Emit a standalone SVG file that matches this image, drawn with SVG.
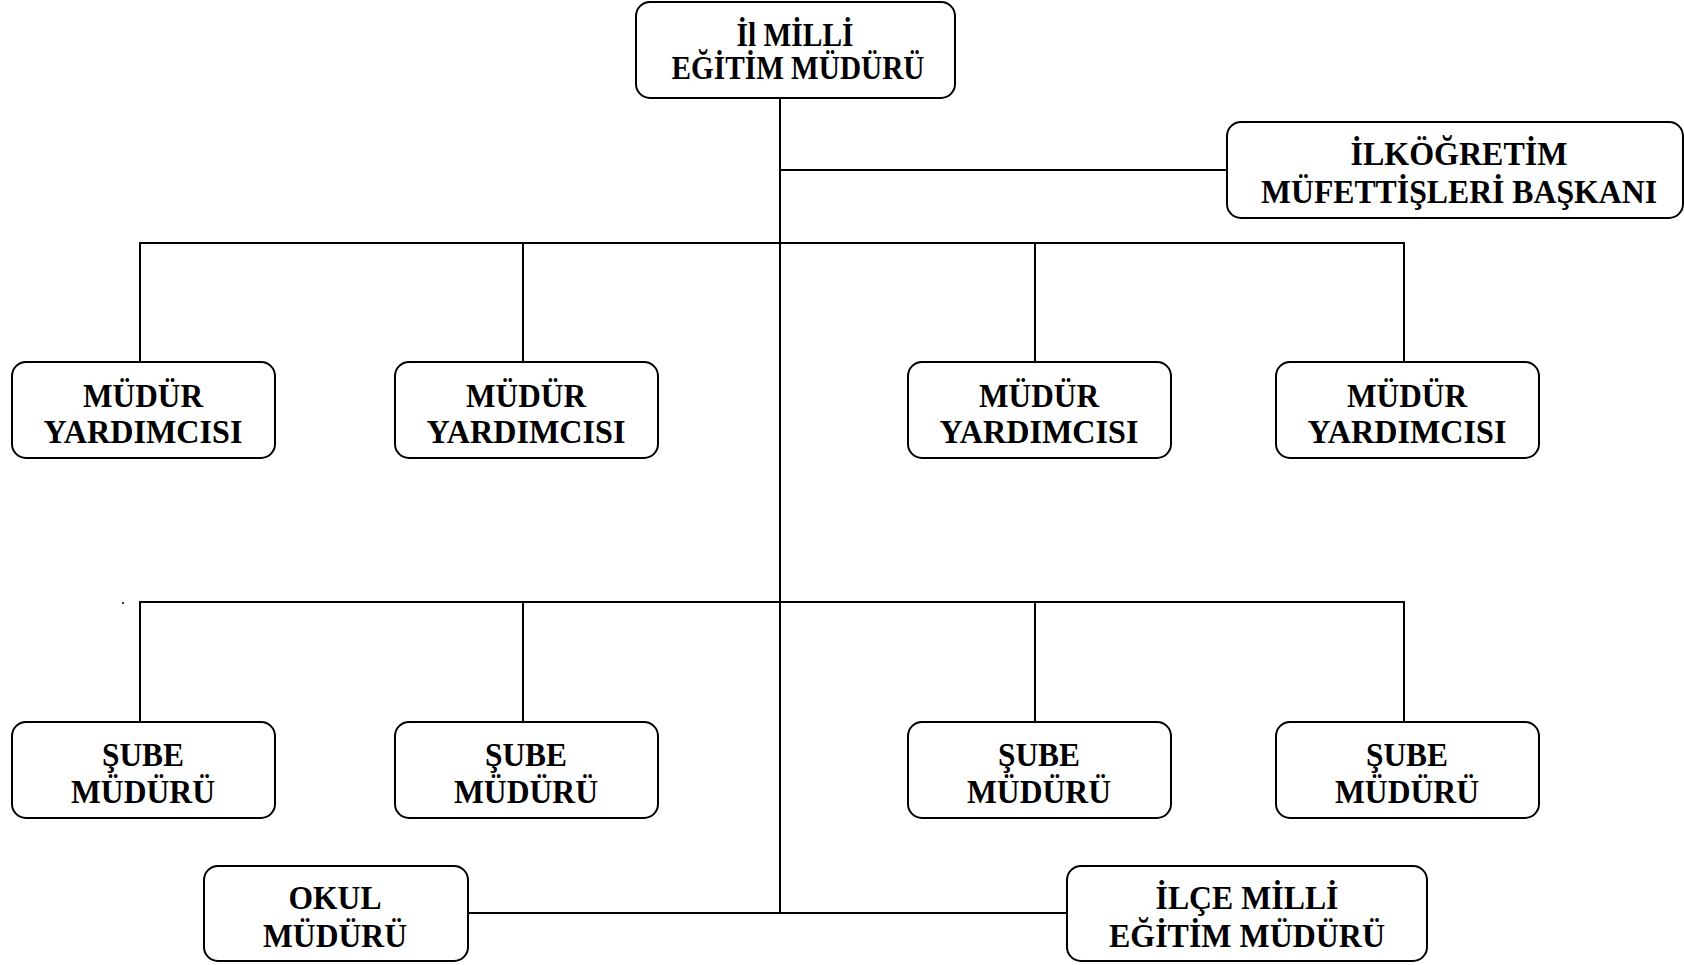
<svg xmlns="http://www.w3.org/2000/svg" width="1684" height="965" viewBox="0 0 1684 965">
<style>
.box{fill:#fff;stroke:#000;stroke-width:2}
.t{font-family:"Liberation Serif","Times New Roman",serif;font-weight:bold;font-size:33px;text-anchor:middle;fill:#000}
.c{fill:none;stroke:#000;stroke-width:2}
</style>
<rect width="1684" height="965" fill="#fff"/>
<g id="connectors">
<path class="c" d="M780 98V913"/>
<path class="c" d="M780 170H1227"/>
<path class="c" d="M140 362V243H1404V362M523 243V362M1035 243V362"/>
<path class="c" d="M140 722V602H1404V722M523 602V722M1035 602V722"/>
<path class="c" d="M468 913H1067"/>
<circle cx="123" cy="603" r="1" fill="#000"/>
</g>
<g id="il-mem"><rect class="box" x="636" y="2" width="319" height="96" rx="14"/><text class="t" x="795" y="46" textLength="117" lengthAdjust="spacingAndGlyphs">İl MİLLİ</text><text class="t" x="798" y="79" textLength="253" lengthAdjust="spacingAndGlyphs">EĞİTİM MÜDÜRÜ</text></g>
<g id="ilkogretim"><rect class="box" x="1227" y="122" width="456" height="96" rx="14"/><text class="t" x="1459" y="165" textLength="217" lengthAdjust="spacingAndGlyphs">İLKÖĞRETİM</text><text class="t" x="1459" y="203" textLength="396" lengthAdjust="spacingAndGlyphs">MÜFETTİŞLERİ BAŞKANI</text></g>
<g id="my1"><rect class="box" x="12" y="362" width="263" height="96" rx="14"/><text class="t" x="143" y="407" textLength="120" lengthAdjust="spacingAndGlyphs">MÜDÜR</text><text class="t" x="143" y="443" textLength="199" lengthAdjust="spacingAndGlyphs">YARDIMCISI</text></g>
<g id="my2"><rect class="box" x="395" y="362" width="263" height="96" rx="14"/><text class="t" x="526" y="407" textLength="120" lengthAdjust="spacingAndGlyphs">MÜDÜR</text><text class="t" x="526" y="443" textLength="199" lengthAdjust="spacingAndGlyphs">YARDIMCISI</text></g>
<g id="my3"><rect class="box" x="908" y="362" width="263" height="96" rx="14"/><text class="t" x="1039" y="407" textLength="120" lengthAdjust="spacingAndGlyphs">MÜDÜR</text><text class="t" x="1039" y="443" textLength="199" lengthAdjust="spacingAndGlyphs">YARDIMCISI</text></g>
<g id="my4"><rect class="box" x="1276" y="362" width="263" height="96" rx="14"/><text class="t" x="1407" y="407" textLength="120" lengthAdjust="spacingAndGlyphs">MÜDÜR</text><text class="t" x="1407" y="443" textLength="199" lengthAdjust="spacingAndGlyphs">YARDIMCISI</text></g>
<g id="sm1"><rect class="box" x="12" y="722" width="263" height="96" rx="14"/><text class="t" x="143" y="766" textLength="82" lengthAdjust="spacingAndGlyphs">ŞUBE</text><text class="t" x="143" y="803" textLength="144" lengthAdjust="spacingAndGlyphs">MÜDÜRÜ</text></g>
<g id="sm2"><rect class="box" x="395" y="722" width="263" height="96" rx="14"/><text class="t" x="526" y="766" textLength="82" lengthAdjust="spacingAndGlyphs">ŞUBE</text><text class="t" x="526" y="803" textLength="144" lengthAdjust="spacingAndGlyphs">MÜDÜRÜ</text></g>
<g id="sm3"><rect class="box" x="908" y="722" width="263" height="96" rx="14"/><text class="t" x="1039" y="766" textLength="82" lengthAdjust="spacingAndGlyphs">ŞUBE</text><text class="t" x="1039" y="803" textLength="144" lengthAdjust="spacingAndGlyphs">MÜDÜRÜ</text></g>
<g id="sm4"><rect class="box" x="1276" y="722" width="263" height="96" rx="14"/><text class="t" x="1407" y="766" textLength="82" lengthAdjust="spacingAndGlyphs">ŞUBE</text><text class="t" x="1407" y="803" textLength="144" lengthAdjust="spacingAndGlyphs">MÜDÜRÜ</text></g>
<g id="okul"><rect class="box" x="204" y="866" width="264" height="95" rx="14"/><text class="t" x="335" y="909" textLength="93" lengthAdjust="spacingAndGlyphs">OKUL</text><text class="t" x="335" y="947" textLength="144" lengthAdjust="spacingAndGlyphs">MÜDÜRÜ</text></g>
<g id="ilce"><rect class="box" x="1067" y="866" width="360" height="95" rx="14"/><text class="t" x="1247" y="909" textLength="183" lengthAdjust="spacingAndGlyphs">İLÇE MİLLİ</text><text class="t" x="1247" y="947" textLength="276" lengthAdjust="spacingAndGlyphs">EĞİTİM MÜDÜRÜ</text></g>
</svg>
